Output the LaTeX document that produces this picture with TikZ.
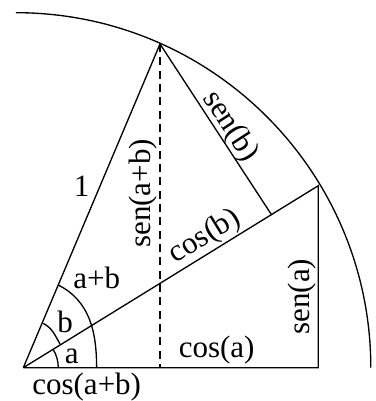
\documentclass[tikz,border=0pt]{standalone}
\usepackage{fontspec}
\setmainfont{Liberation Serif}
\begin{document}
\begin{tikzpicture}[x=0.3pt, y=0.3pt, line width=0.4pt,
    lbl/.style={font=\fontsize{9.3}{11}\selectfont, inner sep=0pt}]
    \useasboundingbox (-23.3,-33.3) rectangle (351.7,367.7);
    % Points of the construction
    \coordinate (O) at (0,0);
    \coordinate (T) at (136.7,323.7);
    \coordinate (P) at (295,182);
    \coordinate (Q) at (295,0);
    \coordinate (F) at (248.4,152.7);
    \coordinate (D) at (T |- O);
    \coordinate (top) at (-7.5,355);

    % Unit circle
    \draw (top) arc[start angle=90, end angle=0, radius=355];

    % Triangles
    \draw (O) -- (T) -- (F);
    \draw (O) -- (P) -- (Q) -- (O);
    \draw[dash pattern=on 2.4pt off 1.6pt] (T) -- (D);

    % Angle marks
    \coordinate (a1) at (35,0);
    \coordinate (b1) at (36.7,23.7);
    \coordinate (b2) at (20,44.3);
    \coordinate (c1) at (73.3,0);
    \coordinate (c2) at (35,82.7);
    \draw (a1) arc[start angle=0, end angle=31.7, radius=35];
    \draw (b1) to[out=120,in=-28] (b2);
    \draw (c1) to[out=90,in=-27] (c2);

    % Labels
    \node[lbl] (one) at (58.4,181) {1};
    \node[lbl, rotate=90] (sab) at (119.4,174.4) {sen(a+b)};
    \node[lbl, rotate=-57] (sb) at (206.7,241) {sen(b)};
    \node[lbl, rotate=31.7] (cb) at (181.7,131) {cos(b)};
    \node[lbl] (ab) at (73.4,89.4) {a+b};
    \node[lbl] (lb) at (41.7,46) {b};
    \node[lbl] (la) at (48.4,11) {a};
    \node[lbl] (ca) at (193.4,17.7) {cos(a)};
    \node[lbl, rotate=90] (sa) at (278.4,71) {sen(a)};
    \node[lbl] (cab) at (63.4,-19) {cos(a+b)};
\end{tikzpicture}
\end{document}
